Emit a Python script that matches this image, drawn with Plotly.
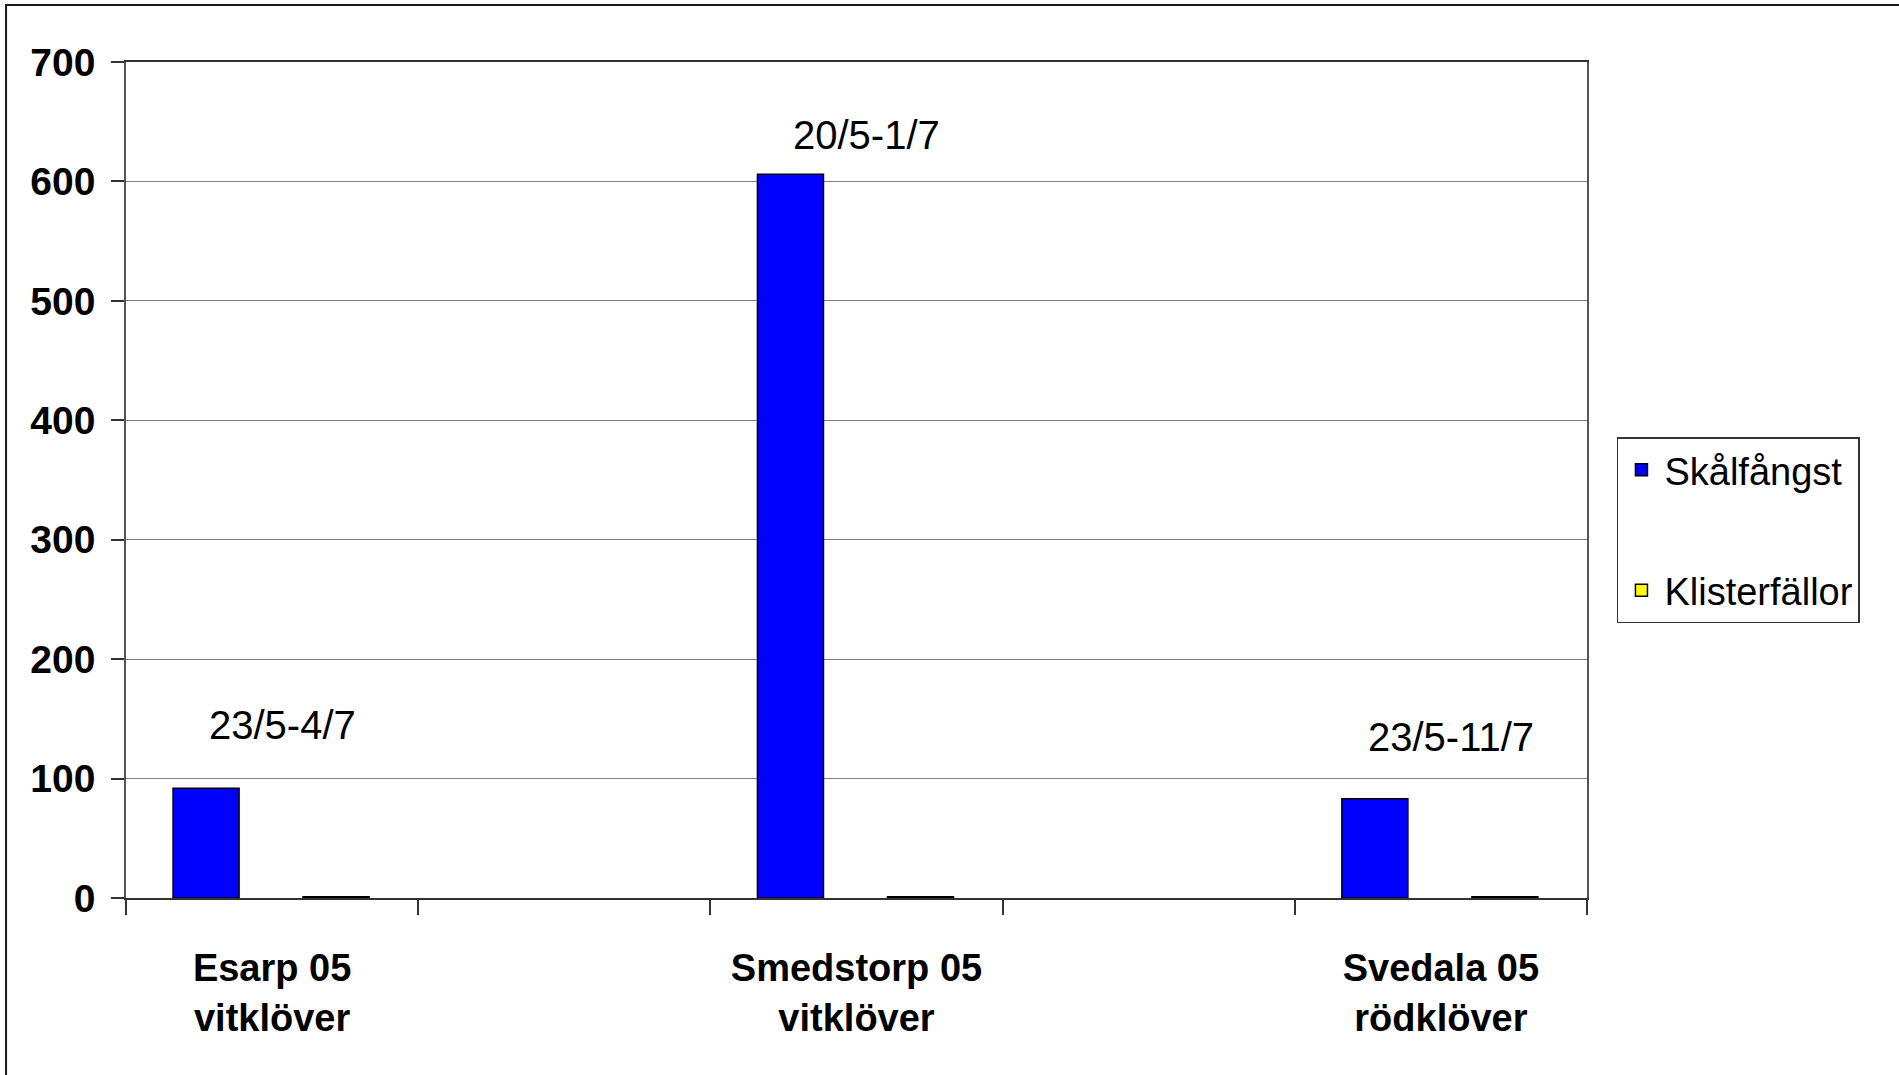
import plotly.graph_objects as go

# Categories (two blank spacer slots between the three sites)
categories = ["Esarp 05<br>vitklöver", " ", "Smedstorp 05<br>vitklöver", "  ", "Svedala 05<br>rödklöver"]
sites = ["Esarp 05<br>vitklöver", "Smedstorp 05<br>vitklöver", "Svedala 05<br>rödklöver"]

skalfangst = [92, 606, 83]
klisterfallor = [1, 1, 1]
periods = ["23/5-4/7", "20/5-1/7", "23/5-11/7"]

y_ticks = [0, 100, 200, 300, 400, 500, 600, 700]

FONT = "Liberation Sans, Arial, sans-serif"

fig = go.Figure()
fig.add_trace(go.Bar(
    x=sites, y=skalfangst, name="Skålfångst",
    marker=dict(color="#0000FF", line=dict(color="#000000", width=1.5)),
    width=0.226, offset=-0.339, legendgroup="a",
))
fig.add_trace(go.Bar(
    x=sites, y=klisterfallor, name="Klisterfällor",
    marker=dict(color="#FFFF00", line=dict(color="#000000", width=1.5)),
    width=0.226, offset=0.106, legendgroup="b",
))

# period labels above each site
label_y = [145, 639, 135]
for s, p, ly in zip(sites, periods, label_y):
    fig.add_annotation(x=s, y=ly, text=p, showarrow=False, xshift=10,
                       font=dict(family=FONT, size=40, color="#000000"))

# outer frame
fig.add_shape(type="rect", xref="paper", yref="paper",
              x0=-0.0821, x1=2, y0=-1, y1=1.0682,
              line=dict(color="#1a1a1a", width=2), layer="below")

fig.update_layout(
    width=1899, height=1075,
    margin=dict(l=126, r=312, t=62, b=177),
    paper_bgcolor="white", plot_bgcolor="white",
    showlegend=True,
    legend=dict(
        x=1.0205, y=0.5514, xanchor="left", yanchor="top",
        bordercolor="#333333", borderwidth=1.5, bgcolor="white",
        font=dict(family=FONT, size=38, color="#000000"),
        tracegroupgap=68, traceorder="grouped", itemwidth=36,
    ),
    xaxis=dict(
        type="category", categoryorder="array", categoryarray=categories,
        range=[-0.5, 4.5], tickson="boundaries",
        ticks="outside", ticklen=15, tickcolor="#333333", tickwidth=1.5,
        ticklabelstandoff=36,
        showline=True, linecolor="#333333", linewidth=1.5, mirror=True,
        showgrid=False,
        tickfont=dict(family=FONT, size=38, color="#000000", weight="bold"),
    ),
    yaxis=dict(
        range=[0, 700], tickvals=y_ticks,
        ticks="outside", ticklen=13, tickcolor="#333333", tickwidth=1.5,
        ticklabelstandoff=8,
        showline=True, linecolor="#555555", linewidth=1.5, mirror=True,
        showgrid=True, gridcolor="#808080", gridwidth=1.2,
        zeroline=False,
        tickfont=dict(family=FONT, size=39, color="#000000", weight="bold"),
    ),
)

fig.write_html("out.html")
